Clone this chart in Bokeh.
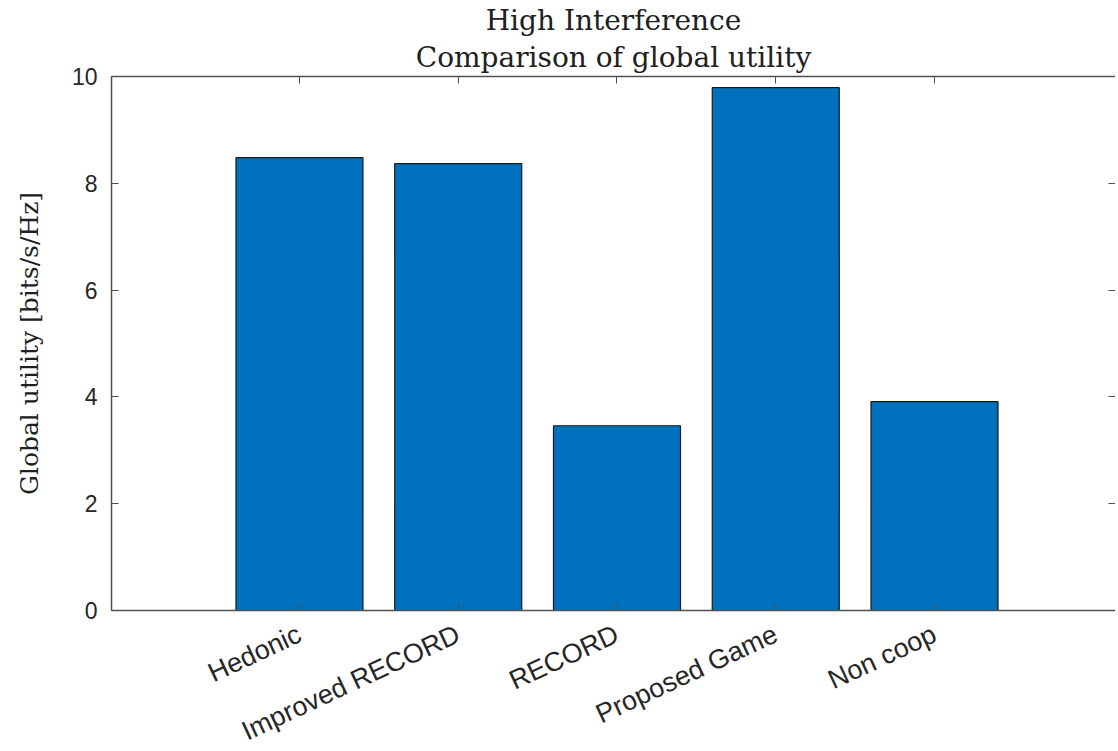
from bokeh.plotting import figure
from bokeh.models import Range1d, LinearAxis, FixedTicker, Title
from bokeh.embed import file_html
from bokeh.resources import INLINE
import math

categories = ["Hedonic", "Improved RECORD", "RECORD", "Proposed Game", "Non coop"]
utility = [8.48, 8.37, 3.46, 9.79, 3.91]
y_ticks = [0, 2, 4, 6, 8, 10]
title_lines = ["High Interference", "Comparison of global utility"]
y_label = "Global utility [bits/s/Hz]"

xs = list(range(1, len(categories) + 1))

p = figure(title=None, frame_width=1004, frame_height=534, output_backend="svg",
           toolbar_location=None, min_border_left=111, min_border_right=0,
           min_border_top=76, min_border_bottom=10,
           x_range=Range1d(-0.184, 6.14), y_range=Range1d(0, 10),
           x_axis_location=None, y_axis_location=None)
p.background_fill_color = "white"
p.border_fill_color = "white"
p.outline_line_color = None
p.xgrid.grid_line_color = None
p.ygrid.grid_line_color = None

p.vbar(x=xs, top=utility, width=0.8, bottom=0,
       fill_color="#0072BD", line_color="#1a1a1a", line_width=1.2)

axis_color = "#505050"
label_color = "#262626"

# bottom axis
xb = LinearAxis(ticker=FixedTicker(ticks=xs),
                major_label_overrides={x: c for x, c in zip(xs, categories)})
xb.major_label_orientation = math.radians(25)
xb.major_label_text_font = "Liberation Sans"
xb.major_label_text_font_size = "27px"
xb.major_label_text_color = label_color
xb.major_tick_in = 7
xb.major_tick_out = 0
xb.minor_tick_line_color = None
xb.axis_line_color = axis_color
xb.axis_line_width = 1.5
xb.major_tick_line_color = axis_color
xb.major_label_standoff = 22
p.add_layout(xb, "below")

# top axis (ticks only)
xt = LinearAxis(ticker=FixedTicker(ticks=xs),
                major_label_overrides={x: "" for x in xs})
xt.major_tick_in = 7
xt.major_tick_out = 0
xt.minor_tick_line_color = None
xt.axis_line_color = axis_color
xt.axis_line_width = 1.5
xt.major_tick_line_color = axis_color
xt.major_label_standoff = 0
p.add_layout(xt, "above")

# left axis
yl = LinearAxis(ticker=FixedTicker(ticks=y_ticks), axis_label=y_label)
yl.axis_label_text_font = "DejaVu Serif"
yl.axis_label_text_font_size = "25px"
yl.axis_label_text_font_style = "normal"
yl.axis_label_text_color = "#202020"
yl.axis_label_standoff = 25
yl.major_label_text_font = "Liberation Sans"
yl.major_label_text_font_size = "23px"
yl.major_label_text_color = label_color
yl.major_tick_in = 7
yl.major_tick_out = 0
yl.minor_tick_line_color = None
yl.axis_line_color = axis_color
yl.axis_line_width = 1.5
yl.major_tick_line_color = axis_color
yl.major_label_standoff = 14
p.add_layout(yl, "left")

# right axis (ticks only)
yr = LinearAxis(ticker=FixedTicker(ticks=y_ticks),
                major_label_overrides={y: "" for y in y_ticks})
yr.major_tick_in = 7
yr.major_tick_out = 0
yr.minor_tick_line_color = None
yr.axis_line_color = None
yr.major_tick_line_color = axis_color
yr.major_label_standoff = 0
p.add_layout(yr, "right")

# titles: the one added later is placed further from the plot
for i, line in enumerate(reversed(title_lines)):
    t = Title(text=line, align="center", text_font="DejaVu Serif",
              text_font_size="28px", text_font_style="normal",
              text_color="#202020", standoff=5 if i == 0 else 0, offset=0)
    p.add_layout(t, "above")

open("out.html", "w").write(file_html(p, INLINE))
